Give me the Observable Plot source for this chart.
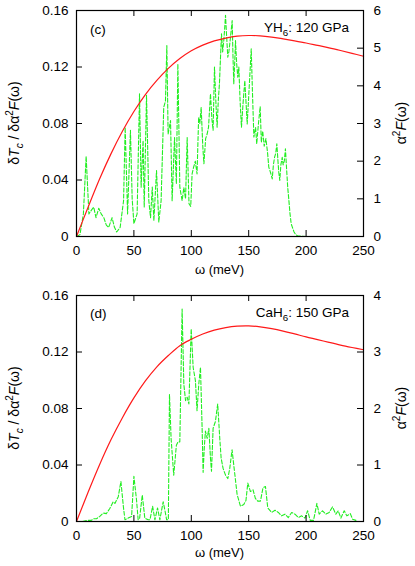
<!DOCTYPE html>
<html><head><meta charset="utf-8">
<script src="https://cdn.jsdelivr.net/npm/d3@7"></script>
<script src="https://cdn.jsdelivr.net/npm/@observablehq/plot@0.6"></script>
<style>
body{margin:0;background:#fff;}
#chart{width:415px;height:566px;overflow:hidden;}
#chart svg{display:block;}
</style>
</head><body><div id="chart"></div>
<script>
// ---------- data ----------
const xTicks = [0, 50, 100, 150, 200, 250];
const leftTicks = [0, 0.04, 0.08, 0.12, 0.16];
const leftTickLabels = ["0", "0.04", "0.08", "0.12", "0.16"];
const rightTicksC = [0, 1, 2, 3, 4, 5, 6];
const rightTicksD = [0, 1, 2, 3, 4];

// red: dTc / d a2F(w), left axis
const redOmega = [0,10,20,30,40,50,60,70,80,90,100,110,120,130,140,150,160,170,180,190,200,210,220,230,240,250];
const redC = [0,0.0205,0.0405,0.0585,0.0745,0.0885,0.1005,0.1105,0.119,0.126,0.1315,0.1355,0.1385,0.1405,0.1418,0.1423,0.1421,0.1412,0.1399,0.1385,0.137,0.1353,0.1336,0.1317,0.1297,0.1276];
const redD = [0,0.0205,0.040,0.0578,0.0735,0.0875,0.0995,0.1095,0.1175,0.1245,0.129,0.1327,0.1355,0.1373,0.1383,0.1385,0.1378,0.1365,0.1348,0.1328,0.1307,0.1288,0.1268,0.1249,0.1232,0.1216];

// green: a2F(w), right axis
const greenCOmega = [0,3,6,8.4,10.8,13,15,17,19.4,21.5,23.8,26,28,31,33,35,38,41,42.4,44.5,47,48.5,50,52.8,54.9,56.3,58,59,61,63,64.5,66,67.4,69.7,71.7,73.7,76,77.5,78.7,79.8,81.9,83.3,85.4,87,88.3,90,92,93.5,95,96.4,98,99.5,100.7,102,103.5,105,106.4,107.4,108.6,110,111,112.5,113.8,115,116.7,118,119,120.2,121.5,122.5,123.5,124.5,125.5,126.3,127.3,128.3,129,129.8,130.8,131.8,132.7,133.5,134.5,135.6,136.3,137,137.8,138.5,139.5,140.5,141.4,142.5,143.7,145,146.6,147.6,148.7,150.5,152.2,153.3,154.5,156,157,158.5,160,161,162.2,163.5,165,166.5,167.5,169,170.5,171.5,172.5,173.5,174.5,175.5,176.2,177.1,178,179.2,180,181,182,183,184,185,186,187,188,189.5,191,192.5,195,200,250];
const greenCVal = [0,0.05,0.6,2.13,0.6,0.7,0.78,0.5,0.75,0.6,0.5,0.3,0.24,0.5,0.25,0.12,0.24,0.95,2.9,0.6,2.82,1.0,0.34,0.6,3.79,1.31,2.55,0.78,3.75,0.95,0.5,1.31,0.42,1.75,0.38,0.95,3.43,3.6,5.07,2.72,3.08,0.95,2.63,1.4,4.58,1.31,0.95,1.3,1.0,2.63,0.87,0.8,1.66,1.84,2.0,1.66,3.17,3.0,3.43,2.4,1.93,2.6,2.72,2.9,3.79,3.1,2.82,4.5,3.5,2.9,3.6,4.05,4.8,5.38,4.9,5.2,5.5,5.87,5.3,4.76,4.9,5.11,5.4,5.73,4.8,4.05,4.6,5.2,4.6,4.23,4.5,3.6,2.9,3.5,4.14,3.6,2.99,4.0,4.98,3.8,2.64,2.9,2.46,3.0,3.45,2.5,2.8,2.4,2.6,2.2,1.84,1.7,1.53,1.9,2.1,2.2,2.46,2.0,1.7,1.49,1.9,2.1,1.9,2.0,2.33,1.8,1.3,0.96,0.6,0.34,0.25,0.12,0.05,0.02,0.01,0,0];

const greenDOmega = [0,5,9.3,13,15,17.4,20.3,23.2,26,29,32,33.5,36.4,38.7,40.8,42.2,45,48,50,52.3,53.7,55,57.3,59.5,62.5,64,66.3,68.3,70.6,72.6,75.5,77,78.5,80,81,82.4,84.7,87,88.5,90,92,93.5,95,96.4,97.9,99.9,101.6,103.6,105,106.5,108,109.4,110.3,111.3,112.3,113.8,115.3,116.7,117.6,119,121,123,124.8,126,127.7,129.8,131.8,133.5,135.5,137.6,139.9,142.8,145.7,147.6,149.2,151.5,153.8,155.8,157.9,160.2,162.5,164.6,166.6,170,172.9,175.8,178.7,181.6,184.5,187.4,190.3,193.2,196.1,199,201.3,203.6,206.5,209.4,211.4,214.3,217.2,220.1,223,225.9,228,230.3,233.2,235.5,238.5,240.5,243.4];
const greenDVal = [0,0,0.02,0.02,0.05,0.05,0.09,0.15,0.14,0.23,0.35,0.32,0.44,0.71,0.27,0.03,0.06,0.09,0.8,0.38,0.03,0.06,0.47,0.06,0.03,0.03,0.27,0.03,0.24,0.03,0.35,0.2,0.03,0.03,2.25,1.47,0.82,1.35,1.41,1.41,3.76,2.43,2.14,2.2,2.08,3.41,2.73,2.49,1.96,2.43,2.73,1.67,0.87,1.3,1.6,1.47,1.65,1.12,0.89,1.65,1.77,2.08,1.47,1.12,0.94,0.82,0.76,0.94,1.27,0.89,0.48,0.27,0.3,0.37,0.68,0.53,0.56,0.41,0.36,0.36,0.6,0.62,0.24,0.16,0.2,0.16,0.1,0.13,0.07,0.16,0.13,0.07,0.1,0.06,0.19,0.02,0.02,0.32,0.13,0.19,0.13,0.16,0.26,0.13,0.19,0.06,0.19,0.1,0.14,0.04,0.02];

// ---------- drawing ----------
const FONT = '"Liberation Sans", Arial, Helvetica, sans-serif';
const GREEN = "#22ee22";
const RED = "#ff1a1a";
const W = 415, ML = 76, MR = 52;

function addText(svg, x, y, parts, opts = {}) {
  const {anchor = "start", rotate = 0, size = 14} = opts;
  const t = d3.select(svg).append("text")
    .attr("transform", `translate(${x},${y}) rotate(${rotate})`)
    .attr("text-anchor", anchor)
    .attr("font-family", FONT)
    .attr("font-size", size)
    .attr("fill", "black");
  let shift = 0;
  for (const [s, st] of parts) {
    const sp = t.append("tspan").text(s);
    let target = 0;
    if (st.includes("sub")) { target = 4; sp.attr("font-size", size * 0.72); }
    else if (st.includes("sup")) { target = -6; sp.attr("font-size", size * 0.72); }
    if (st.includes("i")) sp.attr("font-style", "italic");
    if (target !== shift) { sp.attr("dy", target - shift); shift = target; }
  }
}

function panel({H, mt, mb, red, gOm, gVal, gMax, rightTicks, tag, nameParts, nameY, tagY}) {
  const plotH = H - mt - mb, plotW = W - ML - MR;
  const k = 0.16 / gMax;
  const redData = redOmega.map((w, i) => ({w, v: red[i]}));
  const greenData = gOm.map((w, i) => ({w, v: gVal[i] * k}));
  const rt = rightTicks.map(t => t * k);
  const svg = Plot.plot({
    width: W, height: H,
    marginLeft: ML, marginRight: MR, marginTop: mt, marginBottom: mb,
    x: {domain: [0, 250]},
    y: {domain: [0, 0.16]},
    style: {fontFamily: FONT, fontSize: "13.5px", color: "black", background: "white"},
    marks: [
      Plot.line(greenData, {x: "w", y: "v", stroke: GREEN, strokeWidth: 1.1, strokeDasharray: "4,2"}),
      Plot.line(redData, {x: "w", y: "v", stroke: RED, strokeWidth: 1.2, curve: "catmull-rom"}),
      Plot.frame({stroke: "black", strokeWidth: 1.2}),
      Plot.tickX(xTicks, {x: d => d, stroke: "black", insetTop: plotH - 6}),
      Plot.tickX(xTicks, {x: d => d, stroke: "black", insetBottom: plotH - 6}),
      Plot.tickY(leftTicks, {y: d => d, stroke: "black", insetRight: plotW - 6}),
      Plot.tickY(rt, {y: d => d, stroke: "black", insetLeft: plotW - 6}),
      Plot.axisX(xTicks, {tickSize: 0, tickPadding: 9, label: null, tickFormat: d => String(d)}),
      Plot.axisY(leftTicks, {anchor: "left", tickSize: 0, tickPadding: 8, label: null,
        tickFormat: d => leftTickLabels[leftTicks.indexOf(d)]}),
      Plot.axisY(rt, {anchor: "right", tickSize: 0, tickPadding: 10, label: null,
        tickFormat: d => String(Math.round(d / k))})
    ]
  });
  // axis titles
  addText(svg, 19, mt + plotH / 2,
    [["δ", ""], ["T", "i"], ["c", "sub i"], [" / δα", ""], ["2", "sup"], ["F", "i"], ["(ω)", ""]],
    {anchor: "middle", rotate: -90, size: 14});
  addText(svg, 406, mt + plotH / 2,
    [["α", ""], ["2", "sup"], ["F", "i"], ["(ω)", ""]],
    {anchor: "middle", rotate: -90, size: 14});
  addText(svg, ML + plotW / 2, 274, [["ω (meV)", ""]], {anchor: "middle", size: 13});
  // panel labels
  addText(svg, 90, tagY, [[tag, ""]], {size: 13.5});
  addText(svg, 349, nameY, nameParts, {anchor: "end", size: 13.5});
  return svg;
}

const chart = document.getElementById("chart");
chart.appendChild(panel({
  H: 283, mt: 10, mb: 47, red: redC, gOm: greenCOmega, gVal: greenCVal, gMax: 6,
  rightTicks: rightTicksC, tag: "(c)", tagY: 34,
  nameParts: [["YH", ""], ["6", "sub"], [": 120 GPa", ""]], nameY: 32
}));
chart.appendChild(panel({
  H: 283, mt: 12, mb: 45, red: redD, gOm: greenDOmega, gVal: greenDVal, gMax: 4,
  rightTicks: rightTicksD, tag: "(d)", tagY: 35,
  nameParts: [["CaH", ""], ["6", "sub"], [": 150 GPa", ""]], nameY: 34
}));
</script>
</body></html>
